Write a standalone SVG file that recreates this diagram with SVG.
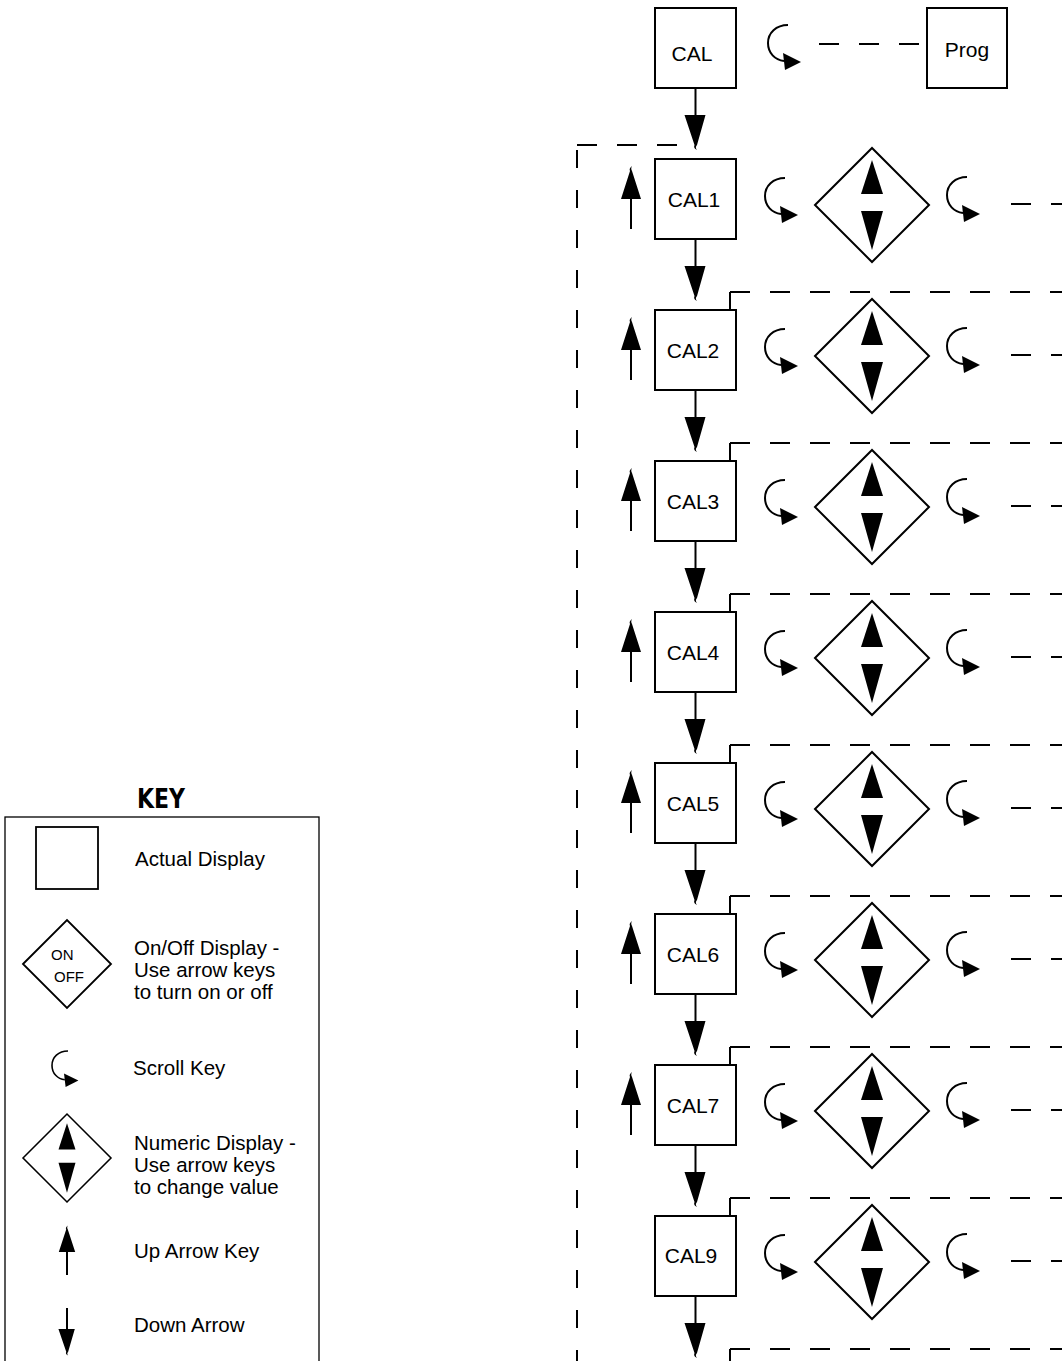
<svg xmlns="http://www.w3.org/2000/svg" xmlns:xlink="http://www.w3.org/1999/xlink" width="1062" height="1361" viewBox="0 0 1062 1361">
<style>
.box{fill:#fff;stroke:#000;stroke-width:2}
.lbl{font-family:"Liberation Sans",Arial,sans-serif;font-size:21px;fill:#000;text-anchor:middle}
.kt{font-family:"Liberation Sans",Arial,sans-serif;font-size:20.5px;fill:#000}
.ln{stroke:#000;stroke-width:2;fill:none}
.dash{stroke:#000;stroke-width:2;fill:none;stroke-dasharray:20 20}
.vdash{stroke:#000;stroke-width:2;fill:none;stroke-dasharray:18 22}
</style>
<defs>
<g id="scroll">
<path d="M0,0 C-12,0 -20,8 -20,18 C-20,28 -13,35 -4,36" fill="none" stroke="#000" stroke-width="2"/>
<polygon points="-5,28 13,37 -3,45" fill="#000"/>
</g>
<path id="dh" d="M-11,0 L10,0 L1.5,30 C0,32 0,33 1.5,35 C-1,34 -2,32 -1,30 Z" fill="#000"/>
<path id="uh" d="M-10,0 L10,0 L1,-28 C0,-30 0,-31 1,-33 C-1,-31 -2,-30 -1,-28 Z" fill="#000"/>
<g id="num">
<polygon points="-57,0 0,-57 57,0 0,57" fill="#fff" stroke="#000" stroke-width="2"/>
<polygon points="-11,-11 11,-11 0,-45" fill="#000"/>
<polygon points="-11,6 11,6 0,45" fill="#000"/>
</g>
</defs>

<g id="connectors">
<line class="ln" x1="695.5" y1="88" x2="695.5" y2="115"/>
<use xlink:href="#dh" x="695.5" y="115"/>
<use xlink:href="#scroll" x="788" y="25"/>
<line class="dash" x1="819" y1="44" x2="919" y2="44"/>
<line class="dash" x1="577" y1="145" x2="677" y2="145"/>
<line class="vdash" x1="577" y1="150" x2="577" y2="1361"/>

<g id="row-links">
<use xlink:href="#scroll" x="785" y="178"/><use xlink:href="#scroll" x="967" y="177"/>
<line class="dash" x1="1011" y1="204" x2="1062" y2="204"/>
<line class="ln" x1="631" y1="199" x2="631" y2="229"/><use xlink:href="#uh" x="631" y="199"/>
<line class="ln" x1="695.5" y1="239" x2="695.5" y2="266"/><use xlink:href="#dh" x="695.5" y="266"/>

<line class="ln" x1="730" y1="292" x2="730" y2="310"/><line class="dash" x1="730" y1="292" x2="1062" y2="292"/>
<use xlink:href="#scroll" x="785" y="329"/><use xlink:href="#scroll" x="967" y="328"/>
<line class="dash" x1="1011" y1="355" x2="1062" y2="355"/>
<line class="ln" x1="631" y1="350" x2="631" y2="380"/><use xlink:href="#uh" x="631" y="350"/>
<line class="ln" x1="695.5" y1="390" x2="695.5" y2="417"/><use xlink:href="#dh" x="695.5" y="417"/>

<line class="ln" x1="730" y1="443" x2="730" y2="461"/><line class="dash" x1="730" y1="443" x2="1062" y2="443"/>
<use xlink:href="#scroll" x="785" y="480"/><use xlink:href="#scroll" x="967" y="479"/>
<line class="dash" x1="1011" y1="506" x2="1062" y2="506"/>
<line class="ln" x1="631" y1="501" x2="631" y2="531"/><use xlink:href="#uh" x="631" y="501"/>
<line class="ln" x1="695.5" y1="541" x2="695.5" y2="568"/><use xlink:href="#dh" x="695.5" y="568"/>

<line class="ln" x1="730" y1="594" x2="730" y2="612"/><line class="dash" x1="730" y1="594" x2="1062" y2="594"/>
<use xlink:href="#scroll" x="785" y="631"/><use xlink:href="#scroll" x="967" y="630"/>
<line class="dash" x1="1011" y1="657" x2="1062" y2="657"/>
<line class="ln" x1="631" y1="652" x2="631" y2="682"/><use xlink:href="#uh" x="631" y="652"/>
<line class="ln" x1="695.5" y1="692" x2="695.5" y2="719"/><use xlink:href="#dh" x="695.5" y="719"/>

<line class="ln" x1="730" y1="745" x2="730" y2="763"/><line class="dash" x1="730" y1="745" x2="1062" y2="745"/>
<use xlink:href="#scroll" x="785" y="782"/><use xlink:href="#scroll" x="967" y="781"/>
<line class="dash" x1="1011" y1="808" x2="1062" y2="808"/>
<line class="ln" x1="631" y1="803" x2="631" y2="833"/><use xlink:href="#uh" x="631" y="803"/>
<line class="ln" x1="695.5" y1="843" x2="695.5" y2="870"/><use xlink:href="#dh" x="695.5" y="870"/>

<line class="ln" x1="730" y1="896" x2="730" y2="914"/><line class="dash" x1="730" y1="896" x2="1062" y2="896"/>
<use xlink:href="#scroll" x="785" y="933"/><use xlink:href="#scroll" x="967" y="932"/>
<line class="dash" x1="1011" y1="959" x2="1062" y2="959"/>
<line class="ln" x1="631" y1="954" x2="631" y2="984"/><use xlink:href="#uh" x="631" y="954"/>
<line class="ln" x1="695.5" y1="994" x2="695.5" y2="1021"/><use xlink:href="#dh" x="695.5" y="1021"/>

<line class="ln" x1="730" y1="1047" x2="730" y2="1065"/><line class="dash" x1="730" y1="1047" x2="1062" y2="1047"/>
<use xlink:href="#scroll" x="785" y="1084"/><use xlink:href="#scroll" x="967" y="1083"/>
<line class="dash" x1="1011" y1="1110" x2="1062" y2="1110"/>
<line class="ln" x1="631" y1="1105" x2="631" y2="1135"/><use xlink:href="#uh" x="631" y="1105"/>
<line class="ln" x1="695.5" y1="1145" x2="695.5" y2="1172"/><use xlink:href="#dh" x="695.5" y="1172"/>

<line class="ln" x1="730" y1="1198" x2="730" y2="1216"/><line class="dash" x1="730" y1="1198" x2="1062" y2="1198"/>
<use xlink:href="#scroll" x="785" y="1235"/><use xlink:href="#scroll" x="967" y="1234"/>
<line class="dash" x1="1011" y1="1261" x2="1062" y2="1261"/>
<line class="ln" x1="695.5" y1="1296" x2="695.5" y2="1323"/><use xlink:href="#dh" x="695.5" y="1323"/>

<line class="ln" x1="730" y1="1349" x2="730" y2="1361"/><line class="dash" x1="730" y1="1349" x2="1062" y2="1349"/>
</g>
</g>

<g id="node-cal"><rect class="box" x="655" y="8" width="81" height="80"/><text class="lbl" x="692" y="61">CAL</text></g>
<g id="node-prog"><rect class="box" x="927" y="8" width="80" height="80"/><text class="lbl" x="967" y="57">Prog</text></g>

<g id="node-cal1"><rect class="box" x="655" y="159" width="81" height="80"/><text class="lbl" x="694" y="207">CAL1</text></g>
<g id="node-cal1-num"><use xlink:href="#num" x="872" y="205"/></g>
<g id="node-cal2"><rect class="box" x="655" y="310" width="81" height="80"/><text class="lbl" x="693" y="358">CAL2</text></g>
<g id="node-cal2-num"><use xlink:href="#num" x="872" y="356"/></g>
<g id="node-cal3"><rect class="box" x="655" y="461" width="81" height="80"/><text class="lbl" x="693" y="509">CAL3</text></g>
<g id="node-cal3-num"><use xlink:href="#num" x="872" y="507"/></g>
<g id="node-cal4"><rect class="box" x="655" y="612" width="81" height="80"/><text class="lbl" x="693" y="660">CAL4</text></g>
<g id="node-cal4-num"><use xlink:href="#num" x="872" y="658"/></g>
<g id="node-cal5"><rect class="box" x="655" y="763" width="81" height="80"/><text class="lbl" x="693" y="811">CAL5</text></g>
<g id="node-cal5-num"><use xlink:href="#num" x="872" y="809"/></g>
<g id="node-cal6"><rect class="box" x="655" y="914" width="81" height="80"/><text class="lbl" x="693" y="962">CAL6</text></g>
<g id="node-cal6-num"><use xlink:href="#num" x="872" y="960"/></g>
<g id="node-cal7"><rect class="box" x="655" y="1065" width="81" height="80"/><text class="lbl" x="693" y="1113">CAL7</text></g>
<g id="node-cal7-num"><use xlink:href="#num" x="872" y="1111"/></g>
<g id="node-cal9"><rect class="box" x="655" y="1216" width="81" height="80"/><text class="lbl" x="691" y="1263">CAL9</text></g>
<g id="node-cal9-num"><use xlink:href="#num" x="872" y="1262"/></g>

<g id="key">
<text x="161" y="808" font-family="'DejaVu Sans Condensed','DejaVu Sans',sans-serif" font-weight="bold" font-size="27" text-anchor="middle" textLength="48" lengthAdjust="spacingAndGlyphs">KEY</text>
<rect x="5" y="817" width="314" height="600" fill="none" stroke="#000" stroke-width="1.3"/>
<rect x="36" y="827" width="62" height="62" fill="none" stroke="#000" stroke-width="1.8"/>
<text class="kt" x="135" y="866">Actual Display</text>
<polygon points="23,964 67,920 111,964 67,1008" fill="none" stroke="#000" stroke-width="1.8"/>
<text x="51" y="960" font-family="'Liberation Sans',Arial,sans-serif" font-size="15">ON</text>
<text x="54" y="982" font-family="'Liberation Sans',Arial,sans-serif" font-size="15">OFF</text>
<text class="kt" x="134" y="955">On/Off Display -</text>
<text class="kt" x="134" y="977">Use arrow keys</text>
<text class="kt" x="134" y="999">to turn on or off</text>
<use xlink:href="#scroll" transform="translate(68,1051) scale(0.8)"/>
<text class="kt" x="133" y="1075">Scroll Key</text>
<use xlink:href="#num" transform="translate(67,1158) scale(0.772)"/>
<text class="kt" x="134" y="1150">Numeric Display -</text>
<text class="kt" x="134" y="1172">Use arrow keys</text>
<text class="kt" x="134" y="1194">to change value</text>
<line class="ln" x1="67" y1="1252" x2="67" y2="1275" stroke-width="1.8"/>
<use xlink:href="#uh" transform="translate(67,1252) scale(0.82,0.8)"/>
<text class="kt" x="134" y="1258">Up Arrow Key</text>
<line class="ln" x1="67" y1="1308" x2="67" y2="1329" stroke-width="1.8"/>
<use xlink:href="#dh" transform="translate(67,1329) scale(0.78,0.76)"/>
<text class="kt" x="134" y="1332">Down Arrow</text>
</g>
</svg>
